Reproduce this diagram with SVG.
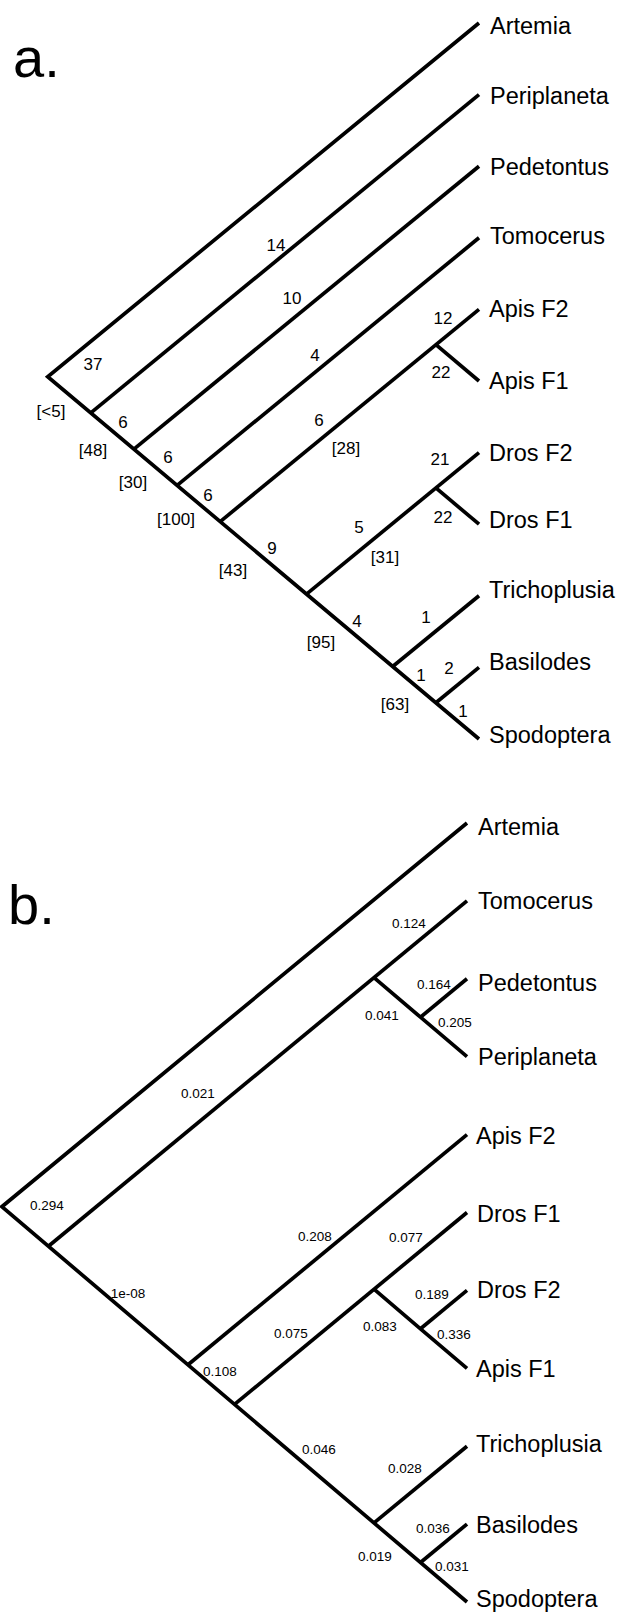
<svg xmlns="http://www.w3.org/2000/svg" width="618" height="1614" viewBox="0 0 618 1614">
<style>
.br{fill:none;stroke:#000;stroke-width:3.7;stroke-linecap:butt;stroke-linejoin:miter;stroke-miterlimit:10}
.tip{font-family:"Liberation Sans",Arial,sans-serif;font-size:23.5px;fill:#000}
.na{font-family:"Liberation Sans",Arial,sans-serif;font-size:17px;fill:#000;text-anchor:middle}
.nb{font-family:"Liberation Sans",Arial,sans-serif;font-size:13.5px;fill:#000;text-anchor:middle}
.pl{font-family:"Liberation Sans",Arial,sans-serif;font-size:56px;fill:#000}
</style>
<rect width="618" height="1614" fill="#fff"/>

<text class="pl" x="13" y="77">a.</text>
<text class="pl" x="8" y="924">b.</text>

<!-- Tree a connectors -->
<g id="tree-a-connectors">
<polyline class="br" points="479,23 47.7,376.7 479,739"/>
<line class="br" x1="90.8" y1="412.9" x2="479" y2="94.6"/>
<line class="br" x1="133.9" y1="449.1" x2="479" y2="166.2"/>
<line class="br" x1="177.1" y1="485.4" x2="479" y2="237.8"/>
<line class="br" x1="220.2" y1="521.6" x2="479" y2="309.4"/>
<line class="br" x1="435.9" y1="344.7" x2="479" y2="381"/>
<line class="br" x1="306.5" y1="594.1" x2="479" y2="452.6"/>
<line class="br" x1="435.9" y1="487.9" x2="479" y2="524.2"/>
<line class="br" x1="392.7" y1="666.5" x2="479" y2="595.8"/>
<line class="br" x1="435.9" y1="702.8" x2="479" y2="667.4"/>
</g>

<!-- Tree a tip nodes -->
<g id="a-artemia"><text class="tip" x="490" y="34">Artemia</text></g>
<g id="a-periplaneta"><text class="tip" x="490" y="104">Periplaneta</text></g>
<g id="a-pedetontus"><text class="tip" x="490" y="175">Pedetontus</text></g>
<g id="a-tomocerus"><text class="tip" x="490" y="244">Tomocerus</text></g>
<g id="a-apisf2"><text class="tip" x="489" y="317">Apis F2</text></g>
<g id="a-apisf1"><text class="tip" x="489" y="389">Apis F1</text></g>
<g id="a-drosf2"><text class="tip" x="489" y="461">Dros F2</text></g>
<g id="a-drosf1"><text class="tip" x="489" y="528">Dros F1</text></g>
<g id="a-trichoplusia"><text class="tip" x="489" y="598">Trichoplusia</text></g>
<g id="a-basilodes"><text class="tip" x="489" y="670">Basilodes</text></g>
<g id="a-spodoptera"><text class="tip" x="489" y="743">Spodoptera</text></g>

<!-- Tree a branch labels -->
<g id="a-labels">
<text class="na" x="93" y="370">37</text>
<text class="na" x="51" y="417">[&lt;5]</text>
<text class="na" x="123" y="428">6</text>
<text class="na" x="93" y="456">[48]</text>
<text class="na" x="168" y="463">6</text>
<text class="na" x="133" y="488">[30]</text>
<text class="na" x="208" y="501">6</text>
<text class="na" x="176" y="525">[100]</text>
<text class="na" x="276" y="251">14</text>
<text class="na" x="292" y="304">10</text>
<text class="na" x="315" y="361">4</text>
<text class="na" x="319" y="426">6</text>
<text class="na" x="346" y="454">[28]</text>
<text class="na" x="443" y="324">12</text>
<text class="na" x="441" y="378">22</text>
<text class="na" x="272" y="554">9</text>
<text class="na" x="233" y="576">[43]</text>
<text class="na" x="359" y="533">5</text>
<text class="na" x="385" y="563">[31]</text>
<text class="na" x="440" y="465">21</text>
<text class="na" x="443" y="523">22</text>
<text class="na" x="357" y="627">4</text>
<text class="na" x="321" y="648">[95]</text>
<text class="na" x="426" y="623">1</text>
<text class="na" x="421" y="681">1</text>
<text class="na" x="449" y="674">2</text>
<text class="na" x="395" y="710">[63]</text>
<text class="na" x="463" y="717">1</text>
</g>

<!-- Tree b connectors -->
<g id="tree-b-connectors">
<polyline class="br" points="467,823 1.9,1206.7 467,1602"/>
<line class="br" x1="48.4" y1="1246.2" x2="467" y2="900.9"/>
<polyline class="br" points="374,977.6 420.5,1017.2 467,1056.7"/>
<line class="br" x1="420.5" y1="1017.2" x2="467" y2="978.8"/>
<line class="br" x1="188" y1="1364.8" x2="467" y2="1134.6"/>
<line class="br" x1="234.5" y1="1404.4" x2="467" y2="1212.5"/>
<polyline class="br" points="374,1289.2 420.5,1328.8 467,1368.3"/>
<line class="br" x1="420.5" y1="1328.8" x2="467" y2="1290.4"/>
<line class="br" x1="374" y1="1522.9" x2="467" y2="1446.2"/>
<line class="br" x1="420.5" y1="1562.5" x2="467" y2="1524.1"/>
</g>

<!-- Tree b tip nodes -->
<g id="b-artemia"><text class="tip" x="478" y="835">Artemia</text></g>
<g id="b-tomocerus"><text class="tip" x="478" y="909">Tomocerus</text></g>
<g id="b-pedetontus"><text class="tip" x="478" y="991">Pedetontus</text></g>
<g id="b-periplaneta"><text class="tip" x="478" y="1065">Periplaneta</text></g>
<g id="b-apisf2"><text class="tip" x="476" y="1144">Apis F2</text></g>
<g id="b-drosf1"><text class="tip" x="477" y="1222">Dros F1</text></g>
<g id="b-drosf2"><text class="tip" x="477" y="1298">Dros F2</text></g>
<g id="b-apisf1"><text class="tip" x="476" y="1377">Apis F1</text></g>
<g id="b-trichoplusia"><text class="tip" x="476" y="1452">Trichoplusia</text></g>
<g id="b-basilodes"><text class="tip" x="476" y="1533">Basilodes</text></g>
<g id="b-spodoptera"><text class="tip" x="476" y="1607">Spodoptera</text></g>

<!-- Tree b branch labels -->
<g id="b-labels">
<text class="nb" x="47" y="1210">0.294</text>
<text class="nb" x="128" y="1298">1e-08</text>
<text class="nb" x="198" y="1098">0.021</text>
<text class="nb" x="409" y="928">0.124</text>
<text class="nb" x="434" y="989">0.164</text>
<text class="nb" x="382" y="1020">0.041</text>
<text class="nb" x="455" y="1027">0.205</text>
<text class="nb" x="315" y="1241">0.208</text>
<text class="nb" x="406" y="1242">0.077</text>
<text class="nb" x="432" y="1299">0.189</text>
<text class="nb" x="380" y="1331">0.083</text>
<text class="nb" x="454" y="1339">0.336</text>
<text class="nb" x="291" y="1338">0.075</text>
<text class="nb" x="220" y="1376">0.108</text>
<text class="nb" x="319" y="1454">0.046</text>
<text class="nb" x="405" y="1473">0.028</text>
<text class="nb" x="433" y="1533">0.036</text>
<text class="nb" x="375" y="1561">0.019</text>
<text class="nb" x="452" y="1571">0.031</text>
</g>
</svg>
